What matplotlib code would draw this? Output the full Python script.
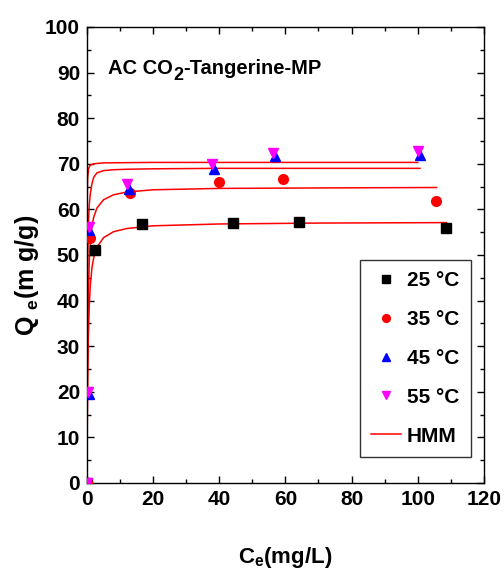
import numpy as np
import matplotlib
matplotlib.use('Agg')
import matplotlib.pyplot as plt
from matplotlib.ticker import MultipleLocator

plt.rcParams['font.family'] = ['Liberation Sans', 'DejaVu Sans']
plt.rcParams['font.weight'] = 'bold'
plt.rcParams['axes.labelweight'] = 'bold'
plt.rcParams['mathtext.fontset'] = 'custom'
plt.rcParams['mathtext.rm'] = 'Liberation Sans:bold'
plt.rcParams['mathtext.it'] = 'Liberation Sans:bold'
plt.rcParams['mathtext.bf'] = 'Liberation Sans:bold'
plt.rcParams['mathtext.default'] = 'rm'

# experimental points (Ce, Qe)
ce_25 = [0, 2.4, 16.5, 44.2, 64.0, 108.5]
qe_25 = [0, 51.1, 56.7, 57.1, 57.2, 55.9]
ce_35 = [0, 0.9, 13.0, 39.9, 59.2, 105.5]
qe_35 = [0, 53.8, 63.5, 65.9, 66.7, 61.8]
ce_45 = [0, 0.5, 0.7, 12.7, 38.4, 56.8, 100.7]
qe_45 = [0, 19.5, 55.5, 64.4, 68.8, 71.6, 71.9]
ce_55 = [0, 0.4, 0.6, 12.0, 37.8, 56.3, 100.2]
qe_55 = [0, 19.9, 56.1, 65.5, 69.9, 72.4, 72.8]

# HMM fitted lines
hmm_x_25 = [0.05, 0.1, 0.2, 0.4, 0.7, 1, 1.5, 2, 3, 5, 8, 12, 20, 40, 70, 108.7]
hmm_y_25 = [7.7, 13.6, 21.9, 31.7, 39.2, 43.3, 47.2, 49.3, 51.7, 53.8, 55.1, 55.8, 56.4, 56.8, 57.0, 57.1]
hmm_x_35 = [0.04, 0.1, 0.2, 0.4, 0.7, 1, 1.5, 2, 3, 5, 8, 12, 20, 40, 70, 105.7]
hmm_y_35 = [9.5, 19.5, 30.0, 41.1, 48.8, 52.7, 56.3, 58.2, 60.3, 62.1, 63.2, 63.8, 64.3, 64.6, 64.7, 64.8]
hmm_x_45 = [0.015, 0.03, 0.06, 0.1, 0.2, 0.4, 0.7, 1, 1.5, 2, 3, 5, 8, 12, 20, 40, 70, 100.7]
hmm_y_45 = [9.8, 17.2, 27.5, 36.2, 47.6, 56.4, 61.2, 63.4, 65.6, 67.0, 68.0, 68.5, 68.7, 68.8, 68.9, 69.0, 69.0, 69.0]
hmm_x_55 = [0.002, 0.005, 0.01, 0.02, 0.05, 0.1, 0.2, 0.5, 1, 2, 5, 20, 100]
hmm_y_55 = [11.7, 23.5, 35.2, 46.9, 58.7, 64.0, 67.0, 69.0, 69.7, 70.0, 70.2, 70.3, 70.3]

fig = plt.figure(figsize=(5.04, 5.78), dpi=100)
ax = fig.add_axes([0.1726, 0.1644, 0.7874, 0.7889])

ax.plot(hmm_x_25, hmm_y_25, color='red', lw=1.1, label='HMM', zorder=2)
ax.plot(hmm_x_35, hmm_y_35, color='red', lw=1.1, zorder=2)
ax.plot(hmm_x_45, hmm_y_45, color='red', lw=1.1, zorder=2)
ax.plot(hmm_x_55, hmm_y_55, color='red', lw=1.1, zorder=2)

ax.plot(ce_25, qe_25, 's', color='black', ms=6.5, ls='none', label='25 °C', zorder=3)
ax.plot(ce_35, qe_35, 'o', color='red', ms=7, ls='none', label='35 °C', zorder=3)
ax.plot(ce_45, qe_45, '^', color='blue', ms=7.5, ls='none', label='45 °C', zorder=3)
ax.plot(ce_55, qe_55, 'v', color='magenta', ms=7.5, ls='none', label='55 °C', zorder=3)

ax.set_xlim(0, 120)
ax.set_ylim(0, 100)
ax.xaxis.set_major_locator(MultipleLocator(20))
ax.xaxis.set_minor_locator(MultipleLocator(10))
ax.yaxis.set_major_locator(MultipleLocator(10))
ax.yaxis.set_minor_locator(MultipleLocator(5))
ax.tick_params(which='both', direction='in', top=True, right=True, labelsize=15, pad=5)
ax.tick_params(which='major', length=5, width=1)
ax.tick_params(which='minor', length=3, width=1)
for s in ax.spines.values():
    s.set_linewidth(1)

ax.set_xlabel('C$_{e}$(mg/L)', fontsize=16, labelpad=26)
ax.set_ylabel('Q $_{e}$(m g/g)', fontsize=18)
ax.yaxis.set_label_coords(-0.115, 0.456)

# title with a full-size lowered "2"
t1 = ax.text(0.053, 0.897, 'AC CO', transform=ax.transAxes, fontsize=14.5, va='baseline')
t2 = ax.annotate('2', xy=(1, 0), xycoords=t1, xytext=(0.5, -4), textcoords='offset points',
                 fontsize=13, va='bottom')
t3 = ax.annotate('-Tangerine-MP', xy=(1, 0), xycoords=t2, xytext=(0, 4),
                 textcoords='offset points', fontsize=14.5, va='bottom')

handles, labels = ax.get_legend_handles_labels()
order = [1, 2, 3, 4, 0]
leg = ax.legend([handles[i] for i in order], [labels[i] for i in order],
                loc='lower right', bbox_to_anchor=(0.967, 0.057), borderaxespad=0,
                fontsize=15, frameon=True, fancybox=False, edgecolor='black',
                handlelength=1.4, labelspacing=0.95, borderpad=0.55,
                handletextpad=0.3, markerscale=0.8)
leg.get_frame().set_linewidth(1)

fig.savefig('out.png', dpi=100)
